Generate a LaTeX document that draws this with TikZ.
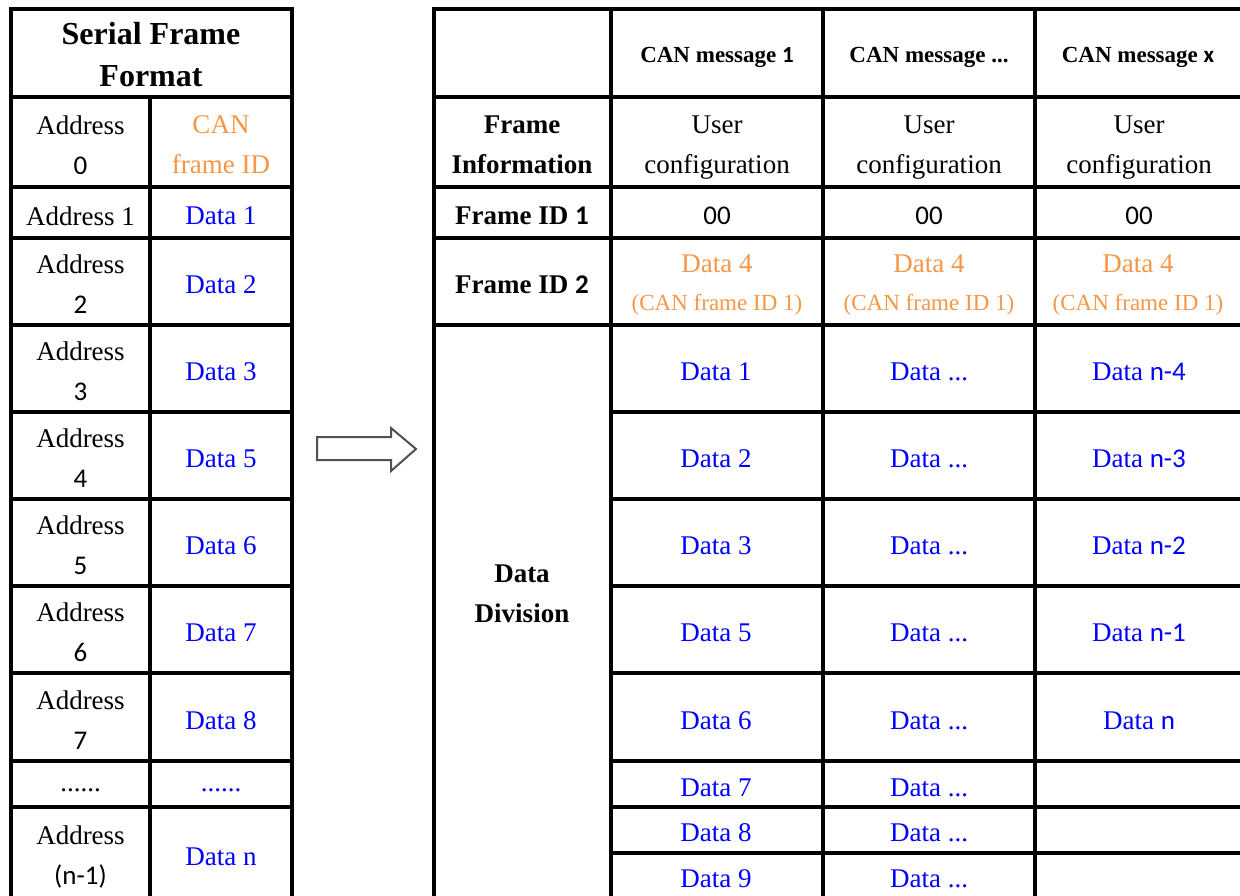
\documentclass[tikz,border=0pt]{standalone}
\usepackage{fontspec}
\setmainfont{Liberation Serif}
\newfontfamily\calib{Carlito}
\definecolor{corange}{HTML}{F79646}
\definecolor{cblue}{HTML}{0000FF}
\definecolor{arrowgray}{HTML}{505050}
\begin{document}
\begin{tikzpicture}[x=1pt,y=-1pt,
  grid/.style={line width=3.2pt, line cap=rect, black},
  txt/.style={font=\fontsize{27}{40}\selectfont, align=center, inner sep=0pt, yshift=-2pt},
  btxt/.style={font=\fontsize{27}{40}\selectfont\bfseries, align=center, inner sep=0pt, yshift=-2pt},
  htxt/.style={font=\fontsize{32}{42}\selectfont\bfseries, align=center, inner sep=0pt, yshift=-2pt},
  stxt/.style={font=\fontsize{23}{30}\selectfont\bfseries, align=center, inner sep=0pt, yshift=-3pt},
  org/.style={txt, text=corange},
  blu/.style={txt, text=cblue},
  bigarrow/.style={draw=arrowgray, line width=2pt, fill=white, line join=miter}]
\useasboundingbox (0,0) rectangle (1240,896);
\clip (0,0) rectangle (1240,896);

% ---------- left table grid ----------
\draw[grid] (11,9) -- (11,900);
\draw[grid] (292,9) -- (292,900);
\draw[grid] (150,97) -- (150,900);
\foreach \y in {9,97,187,238,325,412,499,586,673,761,807}
  \draw[grid] (11,\y) -- (292,\y);

% ---------- right table grid ----------
\foreach \x in {434,611,823,1035}
  \draw[grid] (\x,9) -- (\x,900);
\foreach \y in {9,97,187,238,325}
  \draw[grid] (434,\y) -- (1245,\y);
\foreach \y in {412,499,586,673,761,807,853}
  \draw[grid] (611,\y) -- (1245,\y);

% ---------- block arrow ----------
\draw[bigarrow] (317,437) -- (391,437) -- (391,428) -- (416,449) -- (391,471) -- (391,460) -- (317,460) -- cycle;

% ---------- left table text ----------
\node[htxt] (lhead) at (151,53) {Serial Frame\\Format};
\node[txt] (a0) at (80.5,143) {Address\\{\calib 0}};
\node[org] (d0) at (221,143) {CAN\\frame ID};
\node[txt] (a1) at (80.5,214) {Address 1};
\node[blu] (d1) at (221,214) {Data 1};
\node[txt] (a2) at (80.5,282) {Address\\{\calib 2}};
\node[blu] (d2) at (221,283) {Data 2};
\node[txt] (a3) at (80.5,369) {Address\\{\calib 3}};
\node[blu] (d3) at (221,370) {Data 3};
\node[txt] (a4) at (80.5,456) {Address\\{\calib 4}};
\node[blu] (d5) at (221,457) {Data 5};
\node[txt] (a5) at (80.5,543) {Address\\{\calib 5}};
\node[blu] (d6) at (221,544) {Data 6};
\node[txt] (a6) at (80.5,630) {Address\\{\calib 6}};
\node[blu] (d7) at (221,631) {Data 7};
\node[txt] (a7) at (80.5,718) {Address\\{\calib 7}};
\node[blu] (d8) at (221,719) {Data 8};
\node[txt] (adots) at (80.5,788) {......};
\node[blu] (ddots) at (221,788) {......};
\node[txt] (an) at (80.5,855) {Address\\{\calib (n-1)}};
\node[blu] (dn) at (221,855) {Data n};

% ---------- right table header ----------
\node[stxt] (h1) at (717,54) {CAN message {\calib 1}};
\node[stxt] (h2) at (929,54) {CAN message ...};
\node[stxt] (h3) at (1138,54) {CAN message {\calib x}};

\node[btxt] (fi) at (522,143) {Frame\\Information};
\node[txt] (u1) at (717,146) {User\\configuration};
\node[txt] (u2) at (929,146) {User\\configuration};
\node[txt] (u3) at (1139,146) {User\\configuration};

\node[btxt] (fid1) at (522,214) {Frame ID {\calib 1}};
\node[txt] (z1) at (717,214) {\calib 00};
\node[txt] (z2) at (929,214) {\calib 00};
\node[txt] (z3) at (1139,214) {\calib 00};

\node[btxt] (fid2) at (522,283) {Frame ID {\calib 2}};
\foreach \x/\n in {717/f1,929/f2,1138/f3}{
  \node[org] (\n a) at (\x,262) {Data 4};
  \node[org, font=\fontsize{23}{30}\selectfont] (\n b) at (\x,303) {(CAN frame ID 1)};
}

\node[btxt] (dd) at (522,592) {Data\\Division};

% ---------- data cells ----------
\node[blu] (c11) at (716,370) {Data 1};
\node[blu] (c12) at (716,457) {Data 2};
\node[blu] (c13) at (716,544) {Data 3};
\node[blu] (c14) at (716,631) {Data 5};
\node[blu] (c15) at (716,719) {Data 6};
\node[blu] (c16) at (716,786) {Data 7};
\node[blu] (c17) at (716,831) {Data 8};
\node[blu] (c18) at (716,877) {Data 9};

\foreach \y/\n in {370/1,457/2,544/3,631/4,719/5,786/6,831/7,877/8}
  \node[blu] (c2\n) at (929,\y) {Data ...};

\node[blu] (c31) at (1139,370) {Data {\calib n-4}};
\node[blu] (c32) at (1139,457) {Data {\calib n-3}};
\node[blu] (c33) at (1139,544) {Data {\calib n-2}};
\node[blu] (c34) at (1139,631) {Data {\calib n-1}};
\node[blu] (c35) at (1139,719) {Data {\calib n}};
\end{tikzpicture}
\end{document}
